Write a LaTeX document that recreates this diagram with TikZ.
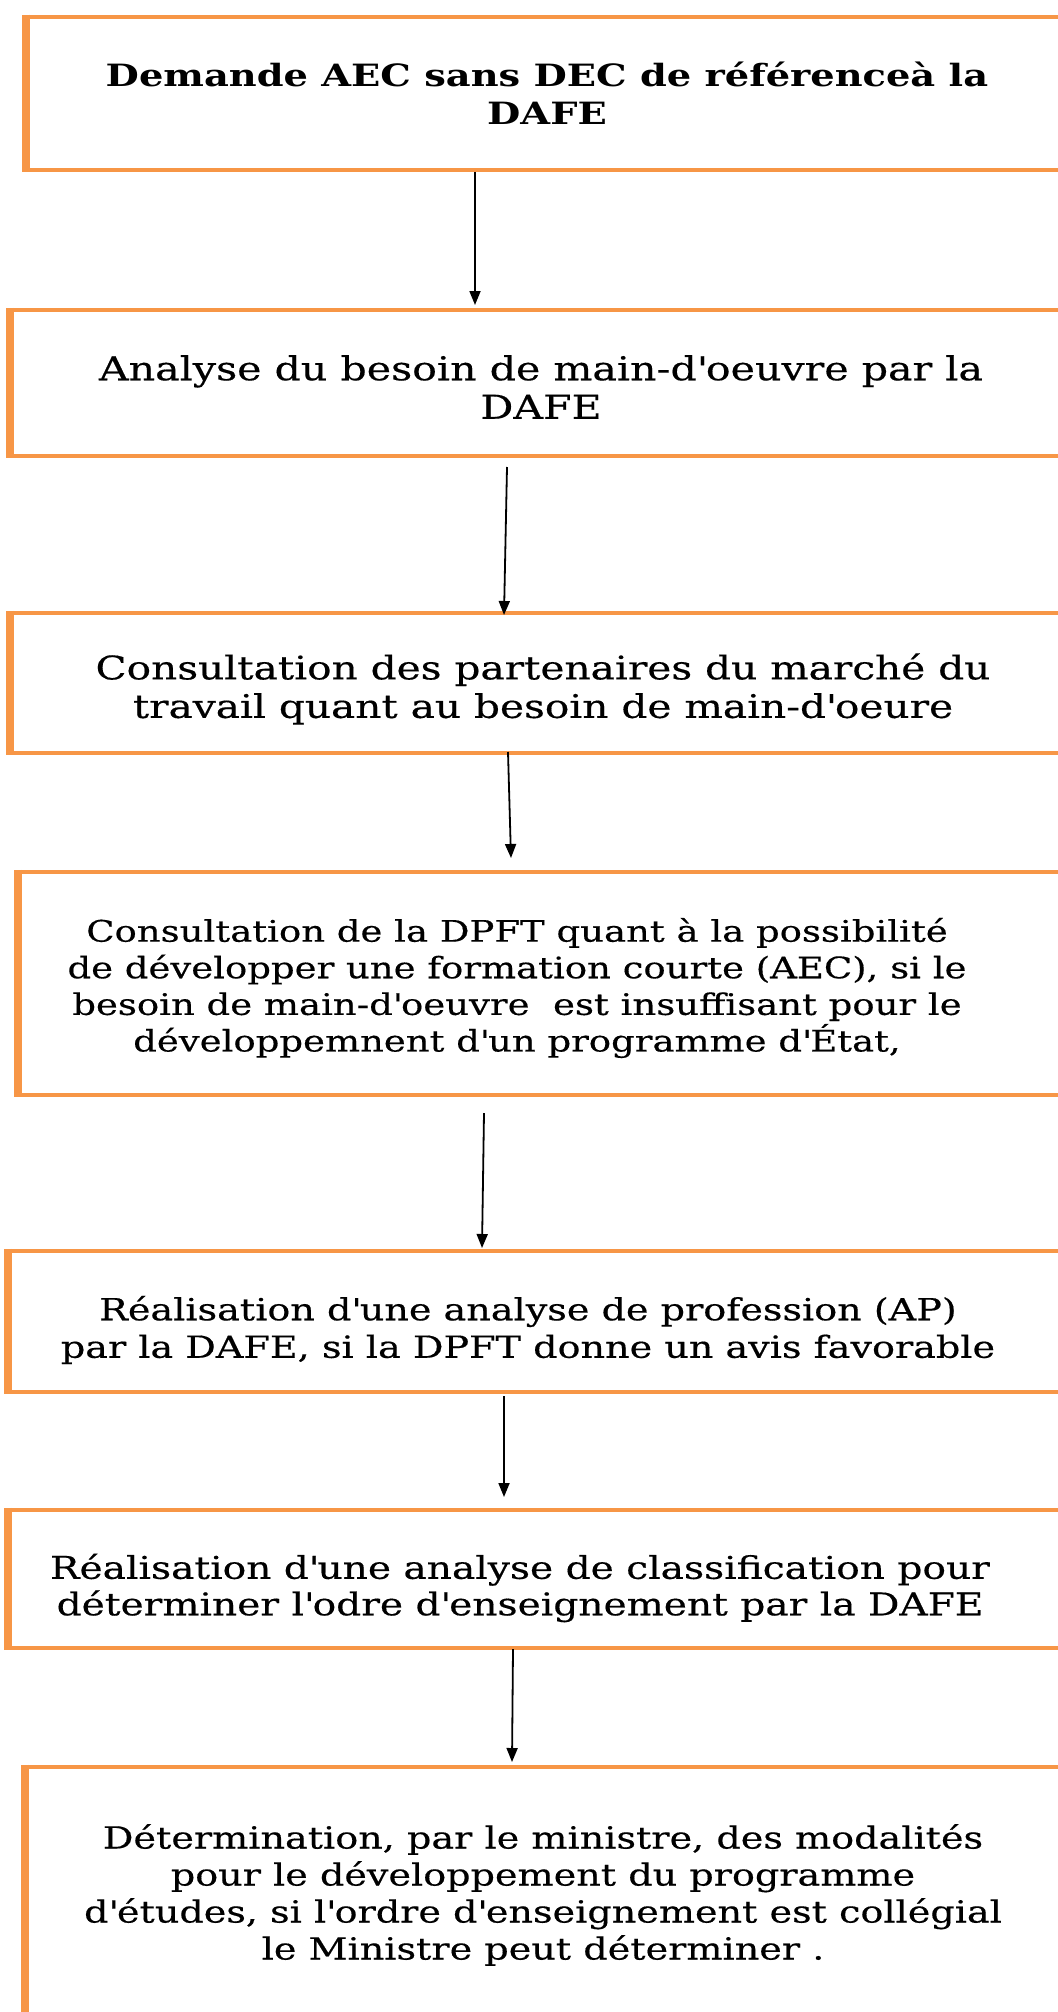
\documentclass[tikz,border=0pt]{standalone}
\usepackage{fontspec}
\setmainfont{DejaVu Serif}[FakeStretch=1.25, UprightFeatures={FakeBold=0.4}]
\usetikzlibrary{arrows.meta}
\definecolor{boxorange}{HTML}{F79646}
\def\myq{\textquotesingle}
\begin{document}
\begin{tikzpicture}[x=1pt,y=-1pt,
  stepbox/.style={draw=boxorange, line width=4.5pt, rectangle, inner sep=0pt},
  sideline/.style={draw=boxorange, line width=8pt},
  txt/.style={align=center, inner sep=0pt, font=\fontsize{30.5}{36.5}\selectfont},
  arr/.style={line width=1.8pt, -{Triangle[length=14pt,width=11pt]}}]
\useasboundingbox (0,0) rectangle (1057,2012);
\fill[white] (0,0) rectangle (1057,2012);
% boxes
\node[stepbox, minimum width=1062, minimum height=153] (b1) at (559,93.5) {};
\node[stepbox, minimum width=1078, minimum height=146] (b2) at (551,383) {};
\node[stepbox, minimum width=1078, minimum height=140] (b3) at (551,683) {};
\node[stepbox, minimum width=1070, minimum height=223] (b4) at (555,983.5) {};
\node[stepbox, minimum width=1080, minimum height=141] (b5) at (550,1321.5) {};
\node[stepbox, minimum width=1080, minimum height=138] (b6) at (550,1579) {};
\node[stepbox, minimum width=1063, minimum height=333] (b7) at (558.5,1933.5) {};
\foreach \b in {b1,b2,b3,b4,b5,b6,b7}
  \draw[sideline] (\b.north west) -- (\b.south west);
% texts
\node[txt, font=\fontsize{30.7}{38}\selectfont\bfseries] (t1) at (547,93.5)
  {Demande AEC sans DEC de référenceà la\\DAFE};
\node[txt, font=\fontsize{32.9}{38.5}\selectfont] (t2) at (541,387)
  {Analyse du besoin de main-d\myq oeuvre par la\\DAFE};
\node[txt, font=\fontsize{32.5}{38.5}\selectfont] (t3) at (543,689)
  {Consultation des partenaires du marché du\\travail quant au besoin de main-d\myq oeure};
\node[txt, font=\fontsize{29.6}{36.6}\selectfont] (t4) at (517,988)
  {Consultation de la DPFT quant à la possibilité\\de développer une formation courte (AEC), si le\\besoin de main-d\myq oeuvre\ \ est insuffisant pour le\\développemnent d\myq un programme d\myq État,};
\node[txt, font=\fontsize{30.5}{37.5}\selectfont] (t5) at (528,1330)
  {Réalisation d\myq une analyse de profession (AP)\\par la DAFE, si la DPFT donne un avis favorable};
\node[txt, font=\fontsize{31.3}{36.5}\selectfont] (t6) at (520,1588)
  {Réalisation d\myq une analyse de classification pour\\déterminer l\myq odre d\myq enseignement par la DAFE};
\node[txt, font=\fontsize{30.5}{37}\selectfont] (t7) at (543,1895)
  {Détermination, par le ministre, des modalités\\pour le développement du programme\\d\myq études, si l\myq ordre d\myq enseignement est collégial\\le Ministre peut déterminer .};
% arrows
\coordinate (a1s) at (475,172);  \coordinate (a1e) at (475,305);
\coordinate (a2s) at (507,467);  \coordinate (a2e) at (504,615);
\coordinate (a3s) at (508,752);  \coordinate (a3e) at (511,858);
\coordinate (a4s) at (484,1113); \coordinate (a4e) at (482,1248);
\coordinate (a5s) at (504,1396); \coordinate (a5e) at (504,1497);
\coordinate (a6s) at (513,1649); \coordinate (a6e) at (512,1762);
\draw[arr] (a1s) -- (a1e);
\draw[arr] (a2s) -- (a2e);
\draw[arr] (a3s) -- (a3e);
\draw[arr] (a4s) -- (a4e);
\draw[arr] (a5s) -- (a5e);
\draw[arr] (a6s) -- (a6e);
\end{tikzpicture}
\end{document}
